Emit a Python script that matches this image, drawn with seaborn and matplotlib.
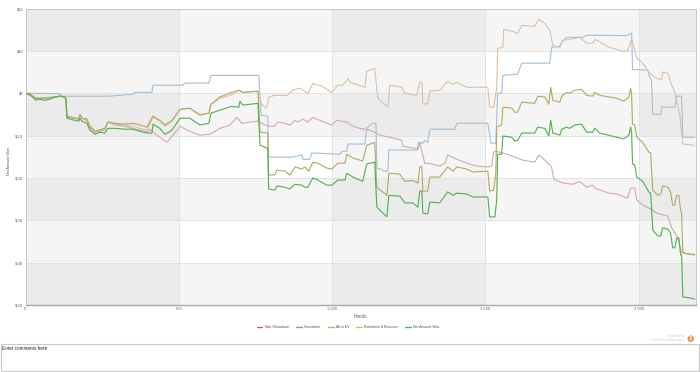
import matplotlib
matplotlib.use("Agg")
import matplotlib.pyplot as plt
import pandas as pd
import seaborn as sns
from matplotlib.lines import Line2D
from matplotlib.patches import Rectangle

series_names = ["Non Showdown", "Showdown", "All-in EV", "Rakeback & Bonuses", "Net Amount Won"]
y_ticks = [20, 10, 0, -10, -20, -30, -40, -50]
y_labels = ["$20", "$10", "$0", "$-10", "$-20", "$-30", "$-40", "$-50"]
x_ticks = [0, 500, 1000, 1500, 2000]
x_labels = ["0", "500", "1 000", "1 500", "2 000"]

# 手数 / 盈亏，从图上读出来的
non_showdown_hands = [0, 34, 96, 112, 129, 132, 135, 174, 178, 184, 200, 210, 227, 259, 269, 292, 324, 350, 373, 396,
                      406, 429, 461, 481, 504, 527, 569, 601, 634, 667, 689, 706, 732, 758, 781, 797, 813, 823, 846,
                      862, 879, 888, 905, 921, 937, 960, 999, 1015, 1048, 1068, 1090, 1123, 1156, 1188, 1227, 1231,
                      1270, 1280, 1286, 1296, 1302, 1325, 1351, 1368, 1377, 1407, 1439, 1472, 1508, 1521, 1527, 1534,
                      1580, 1622, 1661, 1674, 1694, 1716, 1723, 1752, 1785, 1808, 1830, 1850, 1857, 1902, 1929, 1964,
                      1974, 1987, 1994, 2013, 2042, 2059, 2095, 2108, 2127, 2140, 2166, 2183]
non_showdown_won = [0, -1.2, -0.9, -0.7, -0.9, -1.4, -5.7, -6.1, -5.2, -5.9, -6.4, -8.3, -9.2, -8.7, -6.8, -7.5, -7.8,
                    -8.3, -8.7, -9.2, -8.5, -9.9, -11.6, -9.9, -7.8, -8.7, -9.9, -9.7, -8.3, -7.5, -5.7, -7.1, -6.8,
                    -6.6, -7.5, -7.8, -7.8, -6.8, -7.1, -7.5, -6.4, -6.8, -6.1, -6.8, -5.7, -6.4, -7.5, -6.4, -6.8,
                    -7.8, -8.3, -8.7, -9.9, -10.4, -11.1, -12.5, -13.0, -13.4, -11.6, -14.6, -16.5, -16.7, -17.2,
                    -16.5, -14.6, -15.6, -16.5, -17.2, -17.4, -17.2, -13.9, -13.7, -14.6, -15.8, -16.3, -14.6, -15.8,
                    -17.4, -20.3, -21.2, -21.5, -20.8, -22.2, -21.7, -22.4, -23.6, -23.8, -24.8, -22.4, -22.4, -25.2,
                    -26.4, -27.4, -28.3, -29.0, -31.8, -34.0, -37.5, -38.0, -38.0]

showdown_hands = [0, 112, 119, 275, 350, 357, 412, 416, 513, 520, 598, 605, 761, 768, 790, 793, 869, 901, 905, 927, 934,
                  1025, 1032, 1048, 1052, 1107, 1113, 1130, 1143, 1146, 1162, 1166, 1182, 1185, 1276, 1283, 1296, 1302,
                  1312, 1319, 1400, 1407, 1508, 1518, 1534, 1540, 1553, 1557, 1605, 1619, 1710, 1716, 1743, 1749, 1765,
                  1818, 1830, 1961, 1977, 1980, 2030, 2036, 2042, 2046, 2072, 2075, 2118, 2124, 2140, 2144, 2183]
showdown_won = [0, -0.1, -0.7, -0.7, -0.2, 0.2, 0.2, 1.9, 1.9, 2.4, 2.4, 4.2, 4.2, -5.2, -5.4, -15.1, -15.1, -14.6,
                -15.6, -15.6, -14.1, -14.4, -13.7, -13.7, -12.0, -12.0, -8.3, -7.1, -7.1, -17.7, -18.0, -18.4, -18.4,
                -13.4, -13.4, -11.6, -11.8, -11.1, -11.6, -8.5, -8.5, -7.1, -7.1, -11.8, -11.8, 0, 0, 4.2, 4.5, 7.1,
                7.1, 10.8, 11.1, 12.0, 13.2, 13.2, 13.7, 13.6, 14.2, 5.6, 5.4, 3.8, 3.1, -5.0, -5.0, -3.3, -3.3, -0.7,
                -0.7, -10.4, -10.4]

all_in_hands = [0, 34, 96, 112, 129, 132, 135, 174, 178, 184, 200, 210, 227, 259, 269, 292, 324, 350, 373, 396, 416,
                438, 455, 478, 504, 536, 569, 598, 605, 634, 673, 696, 699, 709, 758, 771, 787, 793, 813, 853, 872, 895,
                921, 937, 967, 999, 1019, 1035, 1052, 1058, 1107, 1113, 1139, 1149, 1182, 1188, 1227, 1237, 1276, 1286,
                1293, 1296, 1312, 1319, 1351, 1377, 1394, 1407, 1439, 1465, 1508, 1514, 1527, 1537, 1540, 1557, 1560,
                1589, 1605, 1619, 1661, 1674, 1694, 1710, 1720, 1743, 1752, 1775, 1808, 1830, 1850, 1857, 1906, 1948,
                1964, 1977, 1994, 2013, 2036, 2052, 2075, 2078, 2095, 2108, 2118, 2134, 2144, 2183]
all_in_won = [0, -1.2, -0.9, -0.7, -0.9, -1.4, -5.4, -6.1, -5.0, -5.9, -6.1, -7.8, -9.0, -8.3, -6.8, -7.3, -7.5, -7.8,
              -8.3, -8.7, -5.7, -6.5, -7.8, -6.6, -3.8, -3.6, -5.0, -4.7, -2.6, -1.2, -0.4, 0.7, 0.7, 0.2, 0.4, -2.8,
              -3.5, -0.9, -0.5, -0.5, 0.7, 1.2, -0.1, 2.3, 1.65, 0.2, 1.9, 1.9, 3.5, 2.6, 1.4, 5.2, 5.9, -1.2, -3.3,
              1.9, 1.4, 0, -0.5, 2.6, 2.6, -2.4, -2.6, 0.5, 0.7, 2.8, 2.1, 2.6, 1.4, 1.4, 1.4, -3.3, -3.3, 1.2, 10.6,
              10.8, 15.1, 14.6, 14.1, 16.0, 15.8, 17.4, 16.5, 14.9, 11.3, 10.8, 12.5, 12.7, 13.2, 11.8, 11.8, 12.7,
              10.8, 9.9, 10.1, 12.7, 8.3, 7.1, 4.7, 3.8, 3.1, 5.0, 4.7, 1.9, 0.2, -5.2, -12.0, -12.3]

rakeback_hands = [0, 15, 34, 64, 96, 112, 129, 132, 135, 174, 178, 184, 200, 210, 227, 259, 269, 292, 324, 350, 373,
                  396, 416, 438, 455, 478, 504, 536, 569, 598, 605, 634, 673, 696, 709, 758, 765, 790, 793, 813, 820,
                  846, 862, 879, 901, 911, 924, 937, 954, 983, 999, 1019, 1042, 1048, 1068, 1100, 1113, 1139, 1146,
                  1179, 1185, 1221, 1237, 1263, 1280, 1286, 1293, 1296, 1312, 1319, 1351, 1377, 1394, 1407, 1439, 1459,
                  1508, 1514, 1527, 1534, 1537, 1553, 1557, 1586, 1596, 1605, 1619, 1661, 1671, 1694, 1707, 1713, 1720,
                  1743, 1749, 1765, 1775, 1791, 1814, 1830, 1850, 1857, 1873, 1929, 1951, 1968, 1974, 1977, 1980, 1987,
                  1994, 2013, 2033, 2039, 2046, 2062, 2072, 2078, 2095, 2104, 2111, 2118, 2124, 2131, 2137, 2140, 2144,
                  2166, 2183]
rakeback_won = [0, -0.2, -1.2, -1.2, -0.9, -0.7, -0.9, -1.4, -5.4, -6.1, -5.0, -5.9, -6.1, -7.8, -9.0, -8.3, -6.8, -7.1,
                -7.3, -7.1, -7.5, -8.0, -5.4, -6.4, -7.5, -6.4, -3.8, -3.5, -5.2, -4.7, -2.6, -0.9, 0.2, 0.7, 0.2, 0.5,
                -9.2, -9.4, -19.3, -19.3, -18.2, -18.4, -19.3, -17.4, -17.9, -17.4, -18.4, -16.3, -16.5, -17.7, -17.9,
                -16.5, -16.5, -14.4, -15.3, -16.0, -12.3, -11.6, -22.2, -24.1, -18.9, -19.1, -20.8, -20.6, -21.2, -17.4,
                -17.4, -23.1, -23.1, -19.8, -19.8, -17.4, -18.4, -17.4, -17.9, -18.6, -18.4, -23.1, -22.9, -18.9, -8.0,
                -7.5, -3.3, -3.5, -4.5, -4.5, -2.1, -2.4, -0.7, -0.9, -2.6, 1.4, -1.65, -2.1, -0.7, 0.2, 0, 0.7, 0.9,
                -0.5, -0.7, 0.2, -0.5, -1.2, -1.9, -0.9, 1.2, -0.5, -7.3, -7.5, -10.4, -11.6, -13.9, -14.1, -22.9,
                -24.1, -23.8, -21.9, -22.2, -23.3, -26.4, -26.4, -24.1, -24.1, -27.8, -28.1, -37.7, -38.0, -38.2]

net_hands = [0, 15, 34, 41, 64, 80, 96, 112, 129, 132, 135, 161, 174, 178, 184, 200, 210, 227, 243, 259, 269, 292, 324,
             350, 373, 396, 412, 416, 438, 455, 478, 504, 536, 569, 598, 605, 634, 673, 696, 699, 709, 758, 765, 790,
             793, 813, 820, 846, 862, 879, 901, 911, 921, 937, 954, 983, 999, 1019, 1042, 1048, 1068, 1100, 1113, 1139,
             1146, 1179, 1185, 1221, 1237, 1263, 1280, 1286, 1293, 1296, 1312, 1319, 1351, 1377, 1394, 1407, 1439,
             1459, 1508, 1514, 1531, 1537, 1540, 1553, 1557, 1586, 1596, 1605, 1619, 1661, 1671, 1694, 1707, 1713,
             1720, 1743, 1749, 1765, 1775, 1791, 1814, 1830, 1850, 1857, 1873, 1929, 1951, 1968, 1974, 1977, 1980,
             1987, 1994, 2013, 2033, 2039, 2046, 2062, 2072, 2078, 2095, 2104, 2111, 2118, 2124, 2131, 2137, 2140,
             2144, 2166, 2183]
net_won = [0, -0.35, -1.65, -1.4, -1.65, -1.4, -0.9, -0.7, -0.9, -1.4, -5.9, -6.4, -6.6, -5.9, -6.6, -7.1, -8.7, -9.7,
           -9.2, -9.4, -8.3, -8.3, -8.5, -8.5, -9.0, -9.4, -9.4, -7.3, -8.3, -9.7, -8.7, -5.9, -5.9, -7.5, -7.1, -4.7,
           -4.0, -3.1, -3.3, -1.9, -2.8, -2.4, -12.3, -13.0, -22.6, -22.9, -21.9, -22.2, -22.6, -21.5, -21.7, -22.2,
           -22.2, -20.0, -20.5, -21.7, -21.7, -20.5, -20.5, -18.9, -19.8, -20.8, -16.7, -16.3, -26.9, -29.2, -24.1,
           -24.3, -25.9, -25.9, -26.9, -23.1, -23.1, -28.3, -28.5, -25.7, -25.9, -23.3, -24.1, -23.6, -23.8, -24.5,
           -24.5, -29.2, -29.2, -25.2, -14.4, -14.4, -10.1, -10.4, -11.3, -11.1, -9.4, -9.4, -8.0, -8.3, -10.1, -6.4,
           -9.4, -9.9, -8.5, -8.0, -8.3, -7.5, -7.3, -9.2, -9.2, -8.3, -9.4, -10.4, -10.8, -9.9, -8.0, -9.4, -16.7,
           -17.0, -19.8, -20.8, -23.3, -23.6, -32.3, -33.7, -33.7, -31.8, -32.1, -33.0, -36.5, -36.5, -34.2, -34.2,
           -38.2, -38.2, -48.1, -48.3, -48.6]

all_hands = [non_showdown_hands, showdown_hands, all_in_hands, rakeback_hands, net_hands]
all_won = [non_showdown_won, showdown_won, all_in_won, rakeback_won, net_won]
line_colors = ["#d4a9a9", "#a3bfd6", "#dcc0a8", "#b3a95c", "#4eb04f"]
legend_colors = ["#c2667a", "#6aa2cc", "#d9a56e", "#cdc36e", "#55bb55"]

frames = []
for name, hands, won in zip(series_names, all_hands, all_won):
    frames.append(pd.DataFrame({"Hands": hands, "Won": won, "Series": name}))
df = pd.concat(frames, ignore_index=True)

sns.set_theme(style="white")
plt.rcParams["font.family"] = ["Liberation Sans", "DejaVu Sans"]

fig = plt.figure(figsize=(7, 3.72), dpi=100)
ax = fig.add_axes([25.5 / 700, 1 - 305 / 372, (696 - 25.5) / 700, (305 - 8.5) / 372])

# 交替的背景带
for top in [20, 0, -20, -40]:
    ax.axhspan(top - 10, top, color="black", alpha=0.04, lw=0, zorder=0)
for left, right in [(0, 500), (1000, 1500), (2000, 2187)]:
    ax.axvspan(left, right, color="black", alpha=0.04, lw=0, zorder=0)

sns.lineplot(
    data=df,
    x="Hands",
    y="Won",
    hue="Series",
    palette=dict(zip(series_names, line_colors)),
    estimator=None,
    sort=False,
    errorbar=None,
    linewidth=0.8,
    legend=False,
    ax=ax,
    zorder=3,
)

ax.set_xlim(0, 2187)
ax.set_ylim(-50, 20)
ax.set_xticks(x_ticks)
ax.set_xticklabels(x_labels)
ax.set_yticks(y_ticks)
ax.set_yticklabels(y_labels)
ax.tick_params(axis="both", labelsize=3.0, colors="#666666", length=0, pad=1.5)
ax.grid(True, color="#e2e2e2", linewidth=0.7, zorder=1)
ax.set_axisbelow(True)
ax.set_xlabel("")
ax.set_ylabel("")

for side in ["top", "right", "left"]:
    ax.spines[side].set_color("#c8c8c8")
    ax.spines[side].set_linewidth(0.7)
ax.spines["bottom"].set_color("#a8a8a8")
ax.spines["bottom"].set_linewidth(1.0)

fig.text(9 / 700, 1 - 161 / 372, "Net Amount Won", rotation=90, fontsize=2.7, color="#555555", ha="center", va="center")
fig.text(360 / 700, 1 - 316 / 372, "Hands", fontsize=3.3, color="#555555", ha="center", va="center")

handles = [Line2D([0], [0], color=c, linewidth=1.0) for c in legend_colors]
legend = fig.legend(
    handles,
    series_names,
    loc="center",
    bbox_to_anchor=(348 / 700, 1 - 327 / 372),
    ncol=5,
    frameon=False,
    fontsize=2.5,
    handlelength=1.7,
    handletextpad=0.6,
    columnspacing=2.0,
)
for text in legend.get_texts():
    text.set_color("#555555")

# 下面的评论框
fig.add_artist(Rectangle((0.5 / 700, 1 - 371 / 372), 698.5 / 700, 27 / 372, transform=fig.transFigure,
                         facecolor="white", edgecolor="#c8c8c8", linewidth=0.8))
fig.text(2 / 700, 1 - 349 / 372, "Enter comments here", fontsize=3.3, color="#222222", ha="left", va="center")

# 右下角的 Powered by 标记
fig.text(685 / 700, 1 - 335.5 / 372, "Powered by", fontsize=2.4, color="#cccccc", ha="right", va="center")
fig.text(685 / 700, 1 - 340 / 372, "Hold'em Manager", fontsize=3.1, color="#d2d2d2", ha="right", va="center")
fig.text(690.7 / 700, 1 - 338.7 / 372, "2", fontsize=4.5, color="white", fontweight="bold", ha="center", va="center",
         bbox=dict(boxstyle="circle,pad=0.12", facecolor="#f08a4b", edgecolor="none"))

fig.savefig("out.png", dpi=100)
plt.close(fig)
